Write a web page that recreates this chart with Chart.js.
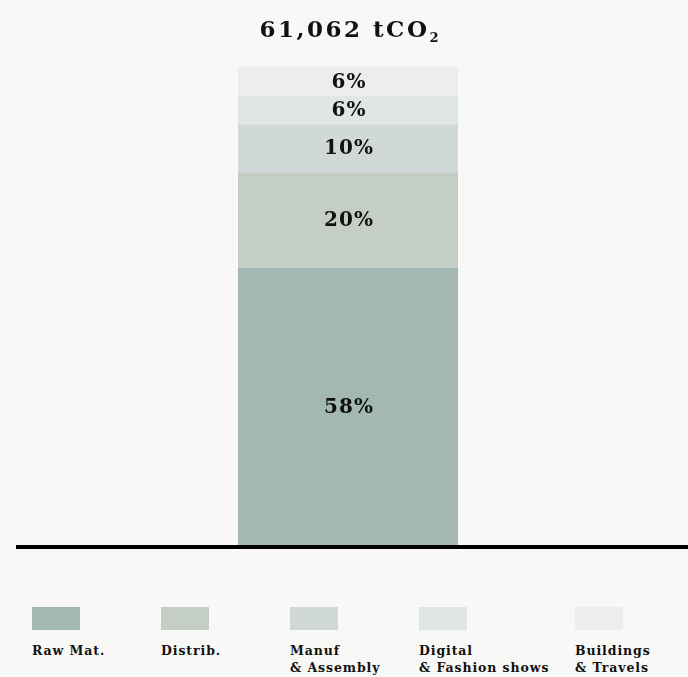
<!DOCTYPE html>
<html>
<head>
<meta charset="utf-8">
<script src="https://cdn.jsdelivr.net/npm/chart.js@4.4.0/dist/chart.umd.min.js"></script>
<style>
  body { margin: 0; background: #f8f8f6; font-family: "DejaVu Serif", serif; }
  #wrap { position: relative; width: 688px; height: 677px; }
  #title { position: absolute; top: 15px; left: 0; width: 698px; text-align: center;
    font-weight: bold; font-size: 23px; letter-spacing: 2.5px; color: #111; }
  #title sub { font-size: 13px; vertical-align: -5px; letter-spacing: 0; }
  #chartBox { position: absolute; left: 0; top: 0; width: 688px; height: 560px; }
  .leg { position: absolute; top: 607px; font-weight: bold; font-size: 12.5px; letter-spacing: 0.9px;
    color: #111; line-height: 17px; white-space: nowrap; }
  .leg .sw { width: 48px; height: 23px; margin-bottom: 12px; }
</style>
</head>
<body>
<div id="wrap">
  <div id="chartBox"><canvas id="c" width="688" height="560"></canvas></div>
  <div id="title">61,062 tCO<sub>2</sub></div>
  <div id="legend"></div>
</div>
<script>
// stacked shares of total emissions (%)
const categories = ['Total'];
const seriesNames = ['Raw Mat.', 'Distrib.', 'Manuf\n& Assembly', 'Digital\n& Fashion shows', 'Buildings\n& Travels'];
const seriesValues = [58, 20, 10, 6, 6];
const colors = ['#a3b8b3', '#c5cec5', '#d0d8d8', '#e0e6e3', '#ededed'];
const legendX = [32, 161, 290, 419, 575];

const datasets = seriesNames.map((name, i) => ({
  label: name,
  data: [seriesValues[i]],
  backgroundColor: colors[i],
  borderWidth: 0,
  barPercentage: 0.3235,
  categoryPercentage: 1
}));

// percentage text in the middle of each segment
const segLabels = {
  id: 'segLabels',
  afterDatasetsDraw(chart) {
    const ctx = chart.ctx;
    ctx.save();
    ctx.font = 'bold 20px "DejaVu Serif"';
    ctx.letterSpacing = '1px';
    ctx.fillStyle = '#111';
    ctx.textAlign = 'center';
    ctx.textBaseline = 'middle';
    chart.data.datasets.forEach((ds, i) => {
      const bar = chart.getDatasetMeta(i).data[0];
      const mid = (bar.y + bar.base) / 2;
      ctx.fillText(ds.data[0] + '%', bar.x + 1, mid + 1);
    });
    ctx.restore();
  }
};

// black baseline
const baseLine = {
  id: 'baseLine',
  afterDatasetsDraw(chart) {
    const ctx = chart.ctx;
    const y = chart.scales.y.getPixelForValue(0);
    ctx.save();
    ctx.fillStyle = '#000';
    ctx.fillRect(16, y, chart.width - 16, 4);
    ctx.restore();
  }
};

new Chart(document.getElementById('c'), {
  type: 'bar',
  data: { labels: categories, datasets: datasets },
  options: {
    responsive: false,
    animation: false,
    layout: { padding: { top: 67, bottom: 15, left: 8, right: 0 } },
    plugins: { legend: { display: false }, tooltip: { enabled: false } },
    scales: {
      x: { stacked: true, display: false },
      y: { stacked: true, display: false, min: 0, max: 100 }
    }
  },
  plugins: [segLabels, baseLine]
});

// legend under the chart
const legend = document.getElementById('legend');
seriesNames.forEach((name, i) => {
  const d = document.createElement('div');
  d.className = 'leg';
  d.style.left = legendX[i] + 'px';
  d.innerHTML = '<div class="sw" style="background:' + colors[i] + '"></div>' +
    name.replace('&', '&amp;').replace('\n', '<br>');
  legend.appendChild(d);
});
</script>
</body>
</html>
